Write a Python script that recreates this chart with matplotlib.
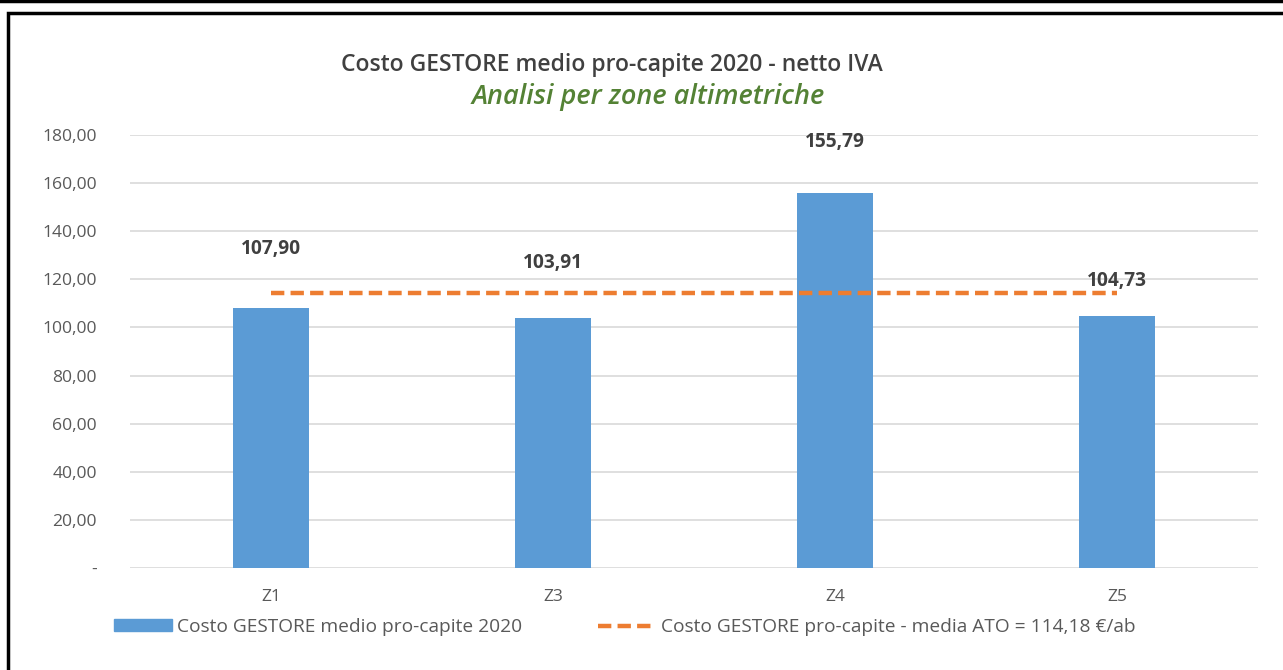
import matplotlib
matplotlib.use('Agg')
import matplotlib.pyplot as plt
from matplotlib.patches import Rectangle, Patch
from matplotlib.lines import Line2D

zones = ['Z1', 'Z3', 'Z4', 'Z5']
costs = [107.90, 103.91, 155.79, 104.73]
label_offsets = [24.7, 22.9, 21.2, 14.6]
ato_mean = 114.18
yticks = [0, 20, 40, 60, 80, 100, 120, 140, 160, 180]

title = 'Costo GESTORE medio pro-capite 2020 - netto IVA'
subtitle = 'Analisi per zone altimetriche'
bar_label = 'Costo GESTORE medio pro-capite 2020'
line_label = 'Costo GESTORE pro-capite - media ATO = 114,18 €/ab'

def fmt(v):
    if v == 0:
        return '-'
    return '{:.2f}'.format(v).replace('.', ',')

plt.rcParams['font.family'] = ['Open Sans', 'DejaVu Sans']

blue = '#5B9BD5'
orange = '#ED7D31'
dark = '#404040'
grey = '#595959'

fig = plt.figure(figsize=(12.83, 6.70), dpi=100)
ax = fig.add_axes([130 / 1283, 1 - 568 / 670, 1128 / 1283, 433 / 670])

x = range(len(zones))
ax.bar(x, costs, width=0.27, color=blue, zorder=2)
ax.plot(x, [ato_mean] * len(zones), color=orange, linestyle=(0, (3, 1.4)), linewidth=3.2, zorder=3)

for i, v in enumerate(costs):
    ax.text(i, v + label_offsets[i], fmt(v), ha='center', va='center',
            fontsize=13.8, fontweight='bold', color=dark, zorder=4)

ax.set_xlim(-0.5, len(zones) - 0.5)
ax.set_ylim(0, 180)
ax.set_yticks(yticks)
ax.set_yticklabels([fmt(v) for v in yticks], fontsize=12.6, color=grey)
ax.set_xticks(list(x))
ax.set_xticklabels(zones, fontsize=12.6, color=grey)
ax.tick_params(axis='both', length=0)
ax.tick_params(axis='y', pad=24)
ax.tick_params(axis='x', pad=15)
ax.grid(axis='y', color='#D9D9D9', linewidth=1.2, zorder=0)
for s in ax.spines.values():
    s.set_visible(False)

fig.text(0.477, 1 - 65 / 670, title, ha='center', va='center', fontsize=16.5,
         fontweight='semibold', color=dark)
fig.text(0.505, 1 - 97 / 670, subtitle, ha='center', va='center', fontsize=19.5,
         color='#548235', style='italic', fontweight='semibold')

handles = [Patch(facecolor=blue, edgecolor=blue),
           Line2D([0], [0], color=orange, linestyle=(0, (3, 1.4)), linewidth=3.2)]
leg = fig.legend(handles, [bar_label, line_label], loc='center', ncol=2,
                 bbox_to_anchor=(0.487, 1 - 627 / 670), frameon=False, fontsize=13.8,
                 handlelength=3.0, handleheight=0.6, columnspacing=4.0, handletextpad=0.25)
for t in leg.get_texts():
    t.set_color(grey)

# outer frame of the original screenshot
fig.add_artist(Line2D([0, 1], [1 - 1 / 670, 1 - 1 / 670], color='black', linewidth=2.5, transform=fig.transFigure))
fig.add_artist(Rectangle((8 / 1283, -0.05), 1.1, 1 - 13 / 670 + 0.05, transform=fig.transFigure,
                         fill=False, edgecolor='black', linewidth=2.5))

fig.savefig('out.png', dpi=100)
